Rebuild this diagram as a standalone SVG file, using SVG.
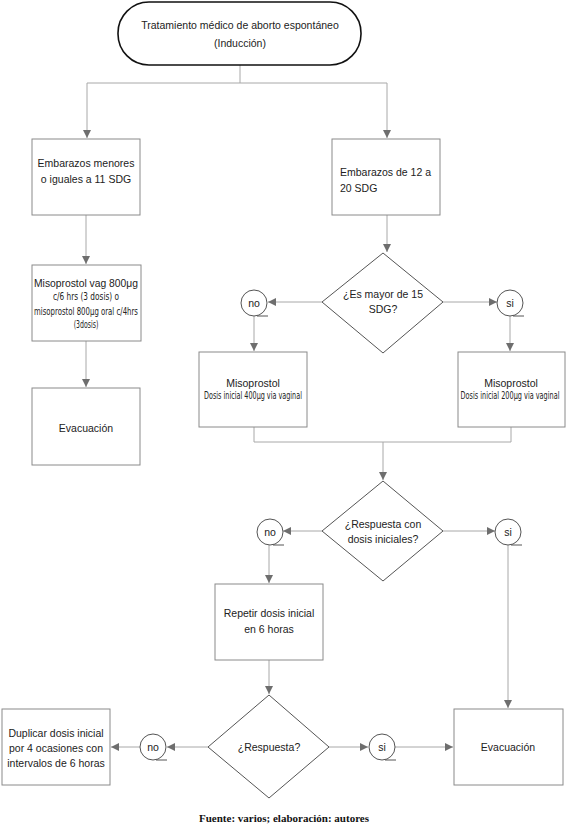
<svg xmlns="http://www.w3.org/2000/svg" width="567" height="833" viewBox="0 0 567 833">
<style>
.box{fill:#fff;stroke:#8a8a8a;stroke-width:1}
.dia{fill:#fff;stroke:#555;stroke-width:1}
.term{fill:#fff;stroke:#111;stroke-width:1.6}
.circ{fill:#fff;stroke:#555;stroke-width:1}
.tick{stroke:#555;stroke-width:1;fill:none}
.con{fill:none;stroke:#a8a8a8;stroke-width:1}
.arr{marker-end:url(#ah)}
.t{font-family:"Liberation Sans",Arial,sans-serif;font-size:10.5px;fill:#222;text-anchor:middle}
.n{font-family:"DejaVu Sans Condensed","Liberation Sans Narrow",sans-serif;font-size:10.5px;fill:#222;text-anchor:middle}
.f{font-family:"Liberation Serif","Times New Roman",serif;font-size:11px;font-weight:bold;fill:#111;text-anchor:middle}
</style>
<defs>
<marker id="ah" markerUnits="userSpaceOnUse" markerWidth="8" markerHeight="8" refX="8" refY="4" orient="auto">
<path d="M0,0 L8,4 L0,8 z" fill="#6e6e6e"/>
</marker>
</defs>
<rect width="567" height="833" fill="#fff"/>
<g id="connectors">
<path class="con" d="M240,65 V83 M87,83 H387"/>
<path class="con arr" d="M87,83 V138"/>
<path class="con arr" d="M387,83 V138"/>
<path class="con arr" d="M86,215 V264"/>
<path class="con arr" d="M86,341 V387"/>
<path class="con arr" d="M387,215 V252"/>
<path class="con arr" d="M322,302 H268"/>
<path class="con arr" d="M443,302 H497"/>
<path class="con arr" d="M254,316 V351"/>
<path class="con arr" d="M510,316 V351"/>
<path class="con" d="M254,427 V442 H511 V427"/>
<path class="con arr" d="M383,442 V480"/>
<path class="con arr" d="M322,531 H283"/>
<path class="con arr" d="M443,531 H495"/>
<path class="con arr" d="M269,545 V583"/>
<path class="con arr" d="M508,545 V708"/>
<path class="con arr" d="M269,660 V694"/>
<path class="con arr" d="M208,747 H167"/>
<path class="con arr" d="M140,747 H111"/>
<path class="con arr" d="M328,747 H368"/>
<path class="con arr" d="M395,747 H453"/>
</g>
<g id="start">
<rect class="term" x="118" y="2" width="243" height="63" rx="31" ry="31"/>
<text class="t" x="240" y="29">Tratamiento  médico de aborto espontáneo</text>
<text class="t" x="240" y="47">(Inducción)</text>
</g>
<g id="menores11">
<rect class="box" x="32" y="139" width="108" height="76"/>
<text class="t" x="86" y="167">Embarazos menores</text>
<text class="t" x="86" y="183">o iguales a 11 SDG</text>
</g>
<g id="misoVag">
<rect class="box" x="32" y="265" width="109" height="76"/>
<text class="t" x="86" y="287" textLength="104" lengthAdjust="spacingAndGlyphs">Misoprostol vag 800μg</text>
<text class="n" transform="translate(86,300) scale(0.55,1)" textLength="120" lengthAdjust="spacingAndGlyphs">c/6 hrs (3 dosis) o</text>
<text class="n" transform="translate(86,315) scale(0.55,1)" textLength="189" lengthAdjust="spacingAndGlyphs">misoprostol 800μg oral c/4hrs</text>
<text class="n" transform="translate(86,328) scale(0.55,1)" textLength="45" lengthAdjust="spacingAndGlyphs">(3dosis)</text>
</g>
<g id="evac1">
<rect class="box" x="32" y="388" width="108" height="77"/>
<text class="t" x="86" y="432">Evacuación</text>
</g>
<g id="emb12a20">
<rect class="box" x="332" y="139" width="108" height="76"/>
<text class="t" x="340" y="176" style="text-anchor:start">Embarazos de 12 a</text>
<text class="t" x="340" y="192" style="text-anchor:start">20 SDG</text>
</g>
<g id="mayor15">
<polygon class="dia" points="383,253 443,302 383,353 322,302"/>
<text class="t" x="383" y="298">¿Es mayor de 15</text>
<text class="t" x="383" y="313">SDG?</text>
</g>
<g id="no1">
<circle class="circ" cx="254" cy="303" r="13"/>
<path class="tick" d="M257,316 H268"/>
<text class="t" x="254" y="307">no</text>
</g>
<g id="si1">
<circle class="circ" cx="510" cy="303" r="13"/>
<path class="tick" d="M513,316 H524"/>
<text class="t" x="510" y="307">si</text>
</g>
<g id="miso400">
<rect class="box" x="199" y="352" width="108" height="75"/>
<text class="t" x="253" y="387">Misoprostol</text>
<text class="n" transform="translate(253,399) scale(0.55,1)" textLength="178" lengthAdjust="spacingAndGlyphs">Dosis inicial 400μg via vaginal</text>
</g>
<g id="miso200">
<rect class="box" x="458" y="352" width="107" height="75"/>
<text class="t" x="511" y="387">Misoprostol</text>
<text class="n" transform="translate(510,399) scale(0.55,1)" textLength="180" lengthAdjust="spacingAndGlyphs">Dosis inicial  200μg via vaginal</text>
</g>
<g id="respInicial">
<polygon class="dia" points="383,481 443,531 383,581 322,531"/>
<text class="t" x="383" y="528">¿Respuesta con</text>
<text class="t" x="383" y="543">dosis iniciales?</text>
</g>
<g id="no2">
<circle class="circ" cx="270" cy="532" r="13"/>
<path class="tick" d="M273,545 H284"/>
<text class="t" x="270" y="536">no</text>
</g>
<g id="si2">
<circle class="circ" cx="508" cy="532" r="13"/>
<path class="tick" d="M511,545 H522"/>
<text class="t" x="508" y="536">si</text>
</g>
<g id="repetir">
<rect class="box" x="215" y="584" width="108" height="76"/>
<text class="t" x="269" y="617">Repetir dosis inicial</text>
<text class="t" x="269" y="633">en 6 horas</text>
</g>
<g id="respuesta">
<polygon class="dia" points="269,695 329,747 269,798 208,747"/>
<text class="t" x="269" y="751">¿Respuesta?</text>
</g>
<g id="no3">
<circle class="circ" cx="153" cy="747" r="13"/>
<path class="tick" d="M156,760 H167"/>
<text class="t" x="153" y="751">no</text>
</g>
<g id="si3">
<circle class="circ" cx="382" cy="747" r="13"/>
<path class="tick" d="M385,760 H396"/>
<text class="t" x="382" y="751">si</text>
</g>
<g id="duplicar">
<rect class="box" x="2" y="709" width="108" height="76"/>
<text class="t" x="56" y="737">Duplicar dosis inicial</text>
<text class="t" x="56" y="752">por 4 ocasiones con</text>
<text class="t" x="56" y="767">intervalos de 6 horas</text>
</g>
<g id="evac2">
<rect class="box" x="454" y="709" width="109" height="76"/>
<text class="t" x="508" y="751">Evacuación</text>
</g>
<text class="f" x="284" y="822">Fuente: varios; elaboración: autores</text>
</svg>
